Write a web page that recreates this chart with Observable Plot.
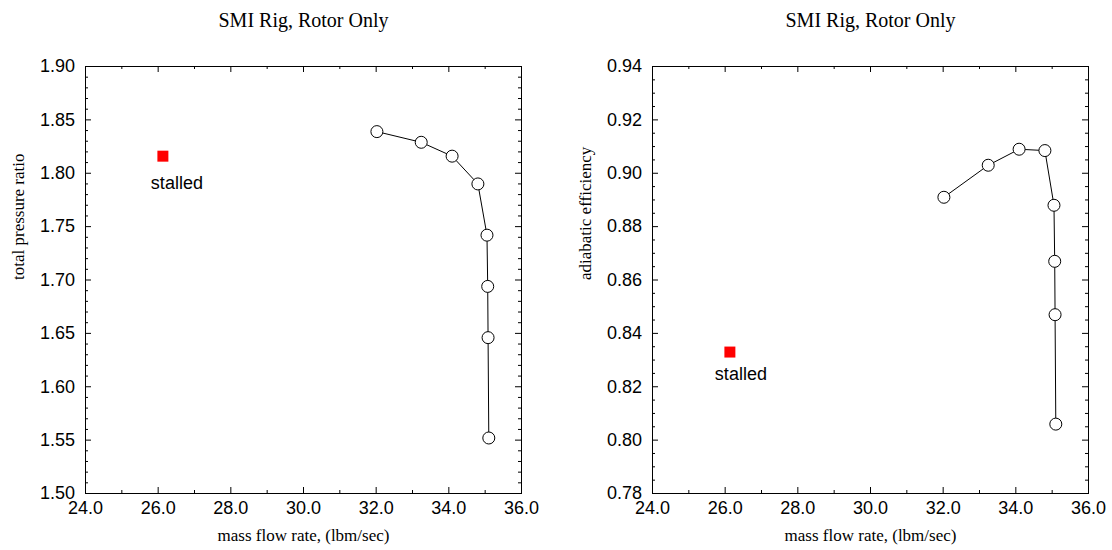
<!DOCTYPE html>
<html><head><meta charset="utf-8">
<script src="https://cdn.jsdelivr.net/npm/d3@7"></script>
<script src="https://cdn.jsdelivr.net/npm/@observablehq/plot@0.6"></script>
<style>
body{margin:0;background:#fff;}
#chart{display:flex;width:1112px;height:550px;}
#chart svg{display:block;}
</style></head><body><div id="chart"></div>
<script>
const title = "SMI Rig, Rotor Only";
const xLabel = "mass flow rate, (lbm/sec)";
const prLabel = "total pressure ratio";
const effLabel = "adiabatic efficiency";
const stalledText = "stalled";

const massFlow = [32.02, 33.24, 34.09, 34.80, 35.05, 35.07, 35.08, 35.10];
const pressureRatio = [1.839, 1.829, 1.816, 1.790, 1.742, 1.694, 1.646, 1.552];
const efficiency = [0.891, 0.903, 0.909, 0.9085, 0.888, 0.867, 0.847, 0.806];

const stalledMassFlow = 26.13;
const stalledPressureRatio = 1.816;
const stalledEfficiency = 0.833;

const xTicks = [24, 26, 28, 30, 32, 34, 36];
const xMinor = [25, 27, 29, 31, 33, 35];
const prTicks = [1.50, 1.55, 1.60, 1.65, 1.70, 1.75, 1.80, 1.85, 1.90];
const effTicks = [0.78, 0.80, 0.82, 0.84, 0.86, 0.88, 0.90, 0.92, 0.94];

const serif = "'Liberation Serif', 'Times New Roman', serif";
const sans = "'Liberation Sans', Arial, sans-serif";

function minorTicks(majors, n) {
  const out = [];
  for (let i = 0; i < majors.length - 1; i++) {
    const a = majors[i], b = majors[i + 1];
    for (let k = 1; k < n; k++) out.push(a + (b - a) * k / n);
  }
  return out;
}

function panel({yValues, yDomain, yTicks, yMinorN, yLabel, stalledY, marginLeft, marginRight, labelDx, labelDy}) {
  const W = 556, H = 550, mt = 66, mb = 57;
  const fw = W - marginLeft - marginRight, fh = H - mt - mb;
  const pts = massFlow.map((x, i) => ({x, y: yValues[i]}));
  const yMinor = minorTicks(yTicks, yMinorN);
  const big = 6, small = 3;
  return Plot.plot({
    width: W, height: H, marginLeft, marginRight, marginTop: mt, marginBottom: mb,
    style: {fontFamily: sans, fontSize: "18px", color: "black", background: "white", overflow: "visible"},
    x: {domain: [24, 36]},
    y: {domain: yDomain},
    marks: [
      Plot.frame({stroke: "black", strokeWidth: 1}),
      Plot.tickX(xTicks, {x: d => d, insetTop: fh - big, stroke: "black"}),
      Plot.tickX(xTicks, {x: d => d, insetBottom: fh - big, stroke: "black"}),
      Plot.tickX(xMinor, {x: d => d, insetTop: fh - small, stroke: "black"}),
      Plot.tickX(xMinor, {x: d => d, insetBottom: fh - small, stroke: "black"}),
      Plot.tickY(yTicks, {y: d => d, insetRight: fw - big, stroke: "black"}),
      Plot.tickY(yTicks, {y: d => d, insetLeft: fw - big, stroke: "black"}),
      Plot.tickY(yMinor, {y: d => d, insetRight: fw - small, stroke: "black"}),
      Plot.tickY(yMinor, {y: d => d, insetLeft: fw - small, stroke: "black"}),
      Plot.axisX({ticks: xTicks, tickSize: 0, tickPadding: 7.5, tickFormat: d => d.toFixed(1), label: null, fontSize: 18}),
      Plot.axisY({ticks: yTicks, tickSize: 0, tickPadding: 10.5, tickFormat: d => d.toFixed(2), label: null, fontSize: 18}),
      Plot.line(pts, {x: "x", y: "y", stroke: "black", strokeWidth: 1}),
      Plot.dot(pts, {x: "x", y: "y", r: 6, fill: "white", stroke: "black", strokeWidth: 1}),
      Plot.dot([{x: stalledMassFlow, y: stalledY}], {x: "x", y: "y", symbol: "square", r: 6.2, fill: "#ff0000"}),
      Plot.text([{x: stalledMassFlow, y: stalledY}], {x: "x", y: "y", text: () => stalledText, dx: labelDx, dy: labelDy, fontSize: 18, fontFamily: sans, fill: "black"}),
      Plot.text([title], {frameAnchor: "top", lineAnchor: "middle", text: d => d, dy: -46, fontFamily: serif, fontSize: 20, fill: "black"}),
      Plot.text([xLabel], {frameAnchor: "bottom", lineAnchor: "middle", text: d => d, dy: 42, fontFamily: serif, fontSize: 17, fill: "black"}),
      Plot.text([yLabel], {frameAnchor: "left", lineAnchor: "middle", text: d => d, rotate: -90, dx: -67, fontFamily: serif, fontSize: 17, fill: "black"})
    ]
  });
}

const chart = document.getElementById("chart");
chart.append(panel({yValues: pressureRatio, yDomain: [1.5, 1.9], yTicks: prTicks, yMinorN: 5, yLabel: prLabel, stalledY: stalledPressureRatio, marginLeft: 85, marginRight: 35, labelDx: 14, labelDy: 27}));
chart.append(panel({yValues: efficiency, yDomain: [0.78, 0.94], yTicks: effTicks, yMinorN: 4, yLabel: effLabel, stalledY: stalledEfficiency, marginLeft: 96, marginRight: 24, labelDx: 11, labelDy: 22}));
</script></body></html>
